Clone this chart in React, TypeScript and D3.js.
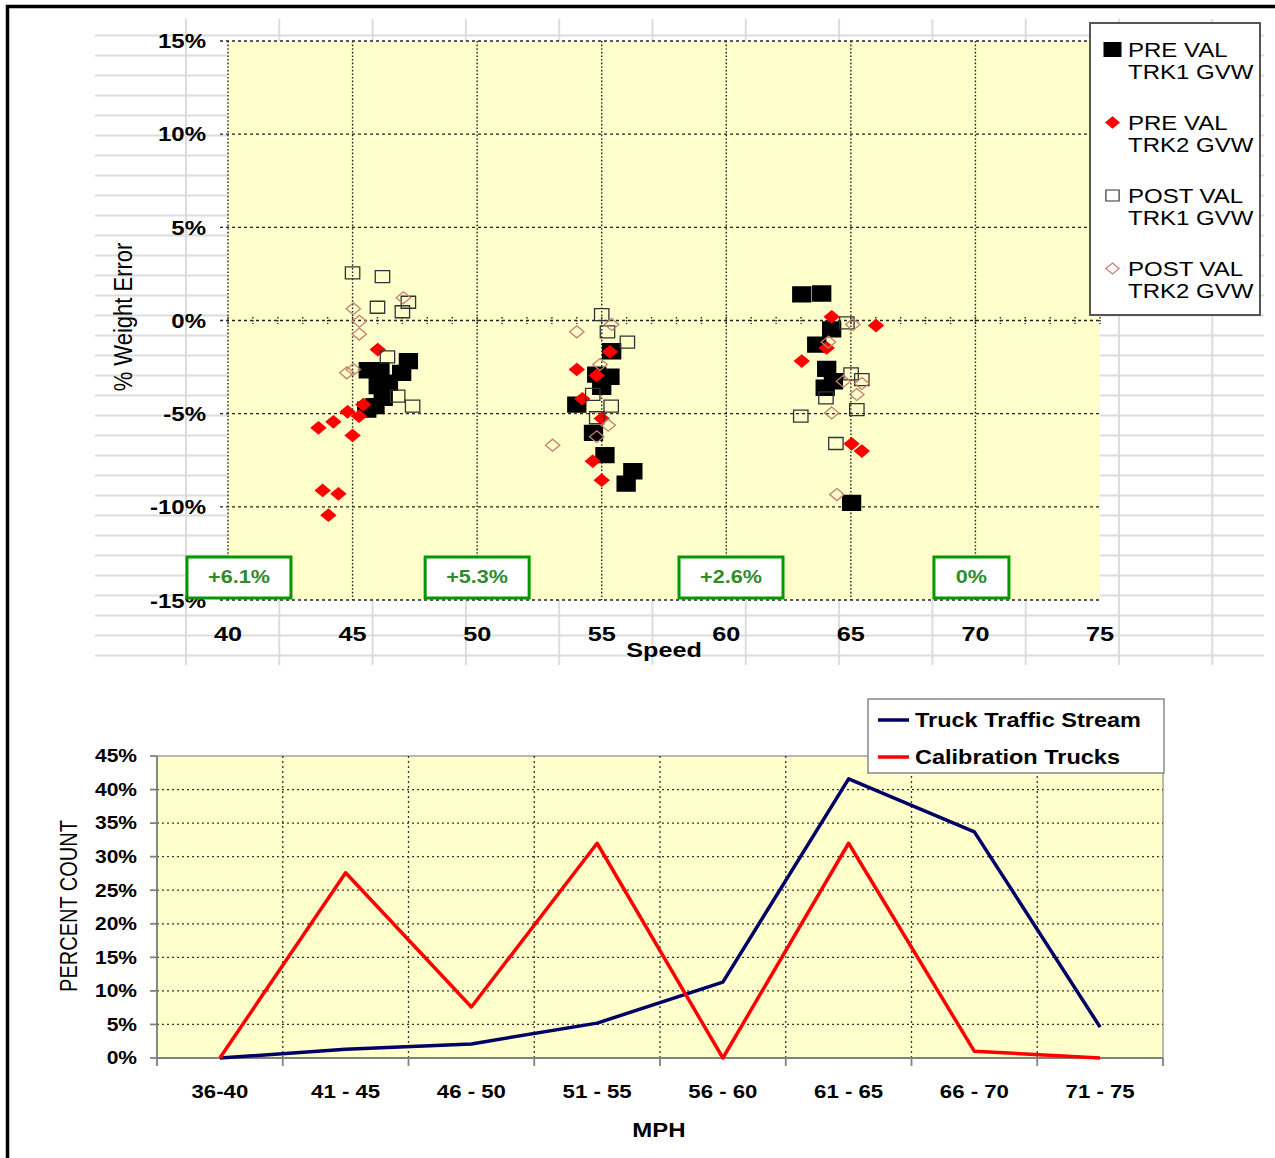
import React from 'react';
import * as d3 from 'd3';

type Pt = [number, number]; // [speed mph, weight error %]

// scatter series
const preTrk1: Pt[] = [
  [45.63, -2.67], [46.1, -2.67], [47.24, -2.18], [46.97, -2.81], [46.44, -3.34], [46.03, -3.52],
  [46.23, -4.15], [45.9, -4.6], [45.57, -4.78],
  [55.4, -1.65], [54.8, -2.9], [55.33, -3.02], [55.0, -3.56], [54.0, -4.51], [54.67, -6.03],
  [55.13, -7.23], [56.25, -8.09], [55.98, -8.75],
  [63.03, 1.4], [63.83, 1.45], [64.23, -0.48], [63.63, -1.29], [64.03, -2.6], [64.3, -3.26],
  [63.97, -3.61], [65.03, -9.79],
];
const preTrk2: Pt[] = [
  [46.01, -1.56], [45.43, -4.51], [44.8, -4.9], [45.26, -5.14], [44.23, -5.44], [43.63, -5.76],
  [45.0, -6.17], [43.8, -9.12], [44.43, -9.3], [44.03, -10.45],
  [55.33, -1.68], [54.0, -2.63], [54.8, -2.95], [54.22, -4.2], [55.0, -5.26], [54.64, -7.55],
  [55.0, -8.57],
  [64.23, 0.2], [66.01, -0.27], [64.03, -1.47], [63.03, -2.18], [65.03, -6.62], [65.44, -7.01],
];
const postTrk1: Pt[] = [
  [45.0, 2.56], [46.2, 2.35], [46.0, 0.71], [47.0, 0.47], [47.24, 0.98], [46.4, -1.95],
  [46.81, -4.06], [47.41, -4.6],
  [55.0, 0.32], [55.23, -0.61], [56.03, -1.16], [54.64, -3.97], [55.38, -4.6], [54.8, -5.22],
  [64.84, -0.13], [65.01, -2.86], [65.44, -3.17], [64.0, -4.15], [65.24, -4.78], [62.99, -5.13],
  [64.4, -6.6],
];
const postTrk2: Pt[] = [
  [45.03, 0.63], [45.27, -0.04], [45.27, -0.73], [47.04, 1.22], [44.77, -2.81], [45.03, -2.63],
  [55.4, -0.21], [54.0, -0.61], [54.93, -2.36], [55.26, -5.62], [54.8, -6.24], [53.03, -6.69],
  [65.08, -0.21], [64.1, -1.16], [64.7, -3.26], [65.44, -3.38], [65.24, -3.97], [64.23, -4.96],
  [64.44, -9.34],
];

const speedTicks = [40, 45, 50, 55, 60, 65, 70, 75];
const errorTicks = [-15, -10, -5, 0, 5, 10, 15];
const noteLabels = ['+6.1%', '+5.3%', '+2.6%', '0%'];
const noteSpeeds = [40.44, 50.0, 60.19, 69.84];

// speed distribution chart
const mphBins = ['36-40', '41 - 45', '46 - 50', '51 - 55', '56 - 60', '61 - 65', '66 - 70', '71 - 75'];
const trafficStream = [0, 1.3, 2.1, 5.2, 11.3, 41.6, 33.7, 4.6];
const calibrationTrucks = [0, 27.6, 7.6, 32.0, 0, 32.0, 1.0, 0];
const countTicks = [0, 5, 10, 15, 20, 25, 30, 35, 40, 45];

const FONT = '"Liberation Sans", Arial, Helvetica, sans-serif';
const SX = 1.2; // the original picture is stretched sideways

const Label = ({ x, y, size, children, weight = 'bold', anchor = 'middle', fill = '#000', rotate = 0 }: any) => (
  <text
    transform={`translate(${x},${y}) scale(${SX},1)${rotate ? ` rotate(${rotate})` : ''}`}
    fontSize={size}
    fontWeight={weight}
    textAnchor={anchor}
    dy="0.36em"
    fill={fill}
    fontFamily={FONT}
  >
    {children}
  </text>
);

const markerPath = (shape: string, s: number) =>
  shape === 'square'
    ? `M${-s / 2},${-s / 2}h${s}v${s}h${-s}Z`
    : `M0,${-s / 2}L${s / 2},0L0,${s / 2}L${-s / 2},0Z`;

const series = [
  { name: ['PRE VAL', 'TRK1 GVW'], data: preTrk1, shape: 'square', size: 15, lsize: 14, fill: '#000', stroke: '#000' },
  { name: ['PRE VAL', 'TRK2 GVW'], data: preTrk2, shape: 'diamond', size: 12, lsize: 11, fill: '#FF0000', stroke: '#FF0000' },
  { name: ['POST VAL', 'TRK1 GVW'], data: postTrk1, shape: 'square', size: 12, lsize: 11, fill: 'none', stroke: '#333' },
  { name: ['POST VAL', 'TRK2 GVW'], data: postTrk2, shape: 'diamond', size: 12, lsize: 11, fill: 'none', stroke: '#C0806F' },
];

export default function App() {
  // top: weight error scatter
  const x = d3.scaleLinear().domain([40, 75]).range([228, 1100]);
  const y = d3.scaleLinear().domain([-15, 15]).range([600, 41]);
  const minor = d3.range(40, 76, 1);

  // spreadsheet cells behind the pasted chart
  const cellRows = d3.range(0, 32).map((k) => 35.5 + k * 20);
  const cellCols = d3.range(0, 12).map((k) => 186 + k * 93.3);

  // bottom: percent count by speed bin
  const xb = d3.scalePoint<string>().domain(mphBins).range([157, 1163]).padding(0.5);
  const yb = d3.scaleLinear().domain([0, 45]).range([1058, 756]);
  const step = xb.step();
  const edges = [xb(mphBins[0])! - step / 2, ...mphBins.map((b) => xb(b)! + step / 2)];
  const line = d3
    .line<number>()
    .x((_, i) => xb(mphBins[i])!)
    .y((d) => yb(d));

  const [px0, px1] = x.range();
  const [py0, py1] = y.range();

  return (
    <svg width={1275} height={1158} style={{ position: 'absolute', left: 0, top: 0, background: '#fff' }}>
      {/* frame */}
      <path d="M7.5,1158V6.5H1275" fill="none" stroke="#000" strokeWidth={3.5} />

      {/* spreadsheet grid */}
      <g stroke="#DCDCDC" strokeWidth={2}>
        {cellRows.map((r) => (
          <line key={'r' + r} x1={95} x2={1264} y1={r} y2={r} />
        ))}
        {cellCols.map((c) => (
          <line key={'c' + c} x1={c} x2={c} y1={19} y2={665} />
        ))}
      </g>

      {/* scatter plot area */}
      <rect x={px0} y={py1} width={px1 - px0} height={py0 - py1} fill="#FFFFCC" />
      <g stroke="#222" strokeWidth={1.4} fill="none">
        {errorTicks.map((t) => (
          <line key={'h' + t} x1={220} x2={px1} y1={y(t)} y2={y(t)} strokeDasharray="3,3" />
        ))}
        {speedTicks.slice(0, -1).map((t) => (
          <line key={'v' + t} x1={x(t)} x2={x(t)} y1={py1} y2={py0} strokeDasharray="1.6,2" />
        ))}
        {minor.map((m) => (
          <line key={'m' + m} x1={x(m)} x2={x(m)} y1={y(0) - 3.5} y2={y(0) + 3.5} strokeDasharray="1.5,1.5" />
        ))}
      </g>

      {/* points */}
      {series.map((s, si) => (
        <g key={si}>
          {s.data.map((d, i) => (
            <path
              key={i}
              d={markerPath(s.shape, s.size)}
              transform={`translate(${x(d[0])},${y(d[1])}) scale(${SX},1)`}
              fill={s.fill}
              stroke={s.stroke}
              strokeWidth={1.3}
              vectorEffect="non-scaling-stroke"
            />
          ))}
        </g>
      ))}

      {/* y labels */}
      {errorTicks.map((t) => (
        <Label key={'yl' + t} x={206} y={y(t) + (t === -15 ? 1 : 0)} size={20} anchor="end">
          {`${t}%`}
        </Label>
      ))}
      <Label x={122} y={317} size={22} weight="normal" rotate={-90}>
        % Weight Error
      </Label>

      {/* x labels */}
      {speedTicks.map((t) => (
        <Label key={'xl' + t} x={x(t)} y={633} size={21}>
          {t}
        </Label>
      ))}
      <Label x={664} y={649} size={21}>
        Speed
      </Label>

      {/* green call-outs */}
      {noteLabels.map((n, i) => {
        const w = n.length > 2 ? 104 : 75;
        const cx = x(noteSpeeds[i]);
        return (
          <g key={n}>
            <rect x={cx - w / 2} y={557} width={w} height={41} fill="#fff" stroke="#009900" strokeWidth={3} />
            <Label x={cx} y={577} size={18} fill="#2E8B2E">
              {n}
            </Label>
          </g>
        );
      })}

      {/* scatter legend */}
      <rect x={1090} y={23} width={170} height={292} fill="#fff" stroke="#555" strokeWidth={2} />
      {series.map((s, i) => {
        const base = 56.5 + i * 73;
        return (
          <g key={'lg' + i}>
            <path
              d={markerPath(s.shape, s.lsize)}
              transform={`translate(1112.5,${base - 7}) scale(${SX},1)`}
              fill={s.fill}
              stroke={s.stroke}
              strokeWidth={1.2}
              vectorEffect="non-scaling-stroke"
            />
            <Label x={1128} y={base - 7} size={20} weight="normal" anchor="start">
              {s.name[0]}
            </Label>
            <Label x={1128} y={base + 15.5} size={20} weight="normal" anchor="start">
              {s.name[1]}
            </Label>
          </g>
        );
      })}

      {/* distribution chart */}
      <rect x={157} y={756} width={1006} height={302} fill="#FFFFCC" stroke="#A0A0A0" strokeWidth={1.5} />
      <g stroke="#333" strokeWidth={1.3} strokeDasharray="2,3">
        {countTicks.slice(1, -1).map((t) => (
          <line key={'bh' + t} x1={157} x2={1163} y1={yb(t)} y2={yb(t)} />
        ))}
        {edges.slice(1, -1).map((e) => (
          <line key={'bv' + e} x1={e} x2={e} y1={756} y2={1058} />
        ))}
      </g>
      <g stroke="#808080" strokeWidth={1.8}>
        <line x1={157} x2={157} y1={756} y2={1058} />
        <line x1={157} x2={1163} y1={1058} y2={1058} />
        {countTicks.map((t) => (
          <line key={'bt' + t} x1={150} x2={157} y1={yb(t)} y2={yb(t)} />
        ))}
        {edges.map((e) => (
          <line key={'be' + e} x1={e} x2={e} y1={1058} y2={1066} />
        ))}
      </g>
      <path d={line(trafficStream)!} fill="none" stroke="#000066" strokeWidth={3.5} strokeLinejoin="round" />
      <path d={line(calibrationTrucks)!} fill="none" stroke="#FF0000" strokeWidth={3.5} strokeLinejoin="round" />

      {countTicks.map((t) => (
        <Label key={'bl' + t} x={137} y={yb(t)} size={17.5} anchor="end">
          {`${t}%`}
        </Label>
      ))}
      {mphBins.map((b) => (
        <Label key={b} x={xb(b)} y={1091.5} size={18.5}>
          {b}
        </Label>
      ))}
      <Label x={659} y={1130} size={20}>
        MPH
      </Label>
      <Label x={68.5} y={906} size={20} weight="normal" rotate={-90}>
        PERCENT COUNT
      </Label>

      {/* distribution legend */}
      <rect x={868} y={699} width={296} height={74} fill="#fff" stroke="#888" strokeWidth={1.5} />
      <line x1={878} x2={909} y1={720} y2={720} stroke="#000066" strokeWidth={3.5} />
      <line x1={878} x2={909} y1={757} y2={757} stroke="#FF0000" strokeWidth={3.5} />
      <Label x={915} y={720} size={19.6} anchor="start">
        Truck Traffic Stream
      </Label>
      <Label x={915} y={757} size={19.6} anchor="start">
        Calibration Trucks
      </Label>
    </svg>
  );
}
